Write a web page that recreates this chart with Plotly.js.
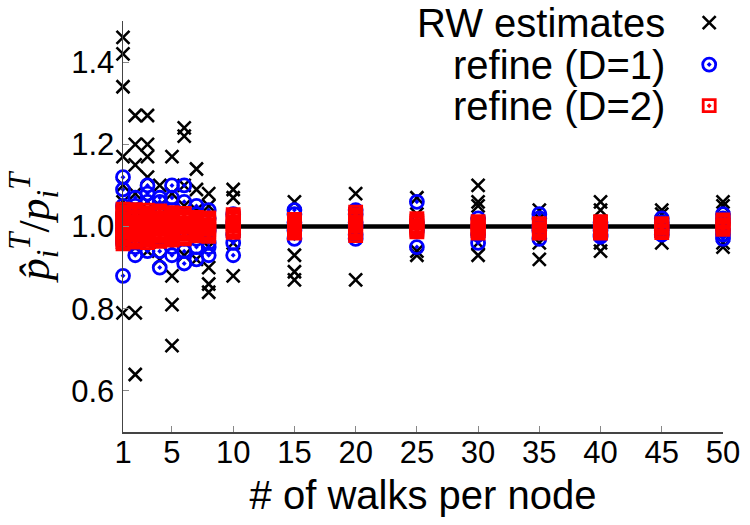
<!DOCTYPE html>
<html>
<head>
<meta charset="utf-8">
<script src="https://cdn.plot.ly/plotly-3.0.1.min.js"></script>
<style>
  html, body { margin: 0; padding: 0; background: #fff; }
  #chart { width: 750px; height: 525px; }
</style>
</head>
<body>
<div id="chart"></div>
<script>
// Number of random walks started per node
const walks = [1, 2, 3, 4, 5, 6, 7, 8, 10, 15, 20, 25, 30, 35, 40, 45, 50];
const xTicks = [1, 5, 10, 15, 20, 25, 30, 35, 40, 45, 50];
const yTicks = [0.6, 0.8, 1.0, 1.2, 1.4];
const referenceLevel = 1.0;

// Ratio of estimated to true PageRank, one list per walk count
const rwEstimates = [
  [1.46, 1.42, 1.34, 1.17, 1.10, 1.06, 1.03, 1.00, 0.97, 0.96, 0.79],
  [1.27, 1.20, 1.15, 1.08, 1.04, 0.99, 0.95, 0.79, 0.64],
  [1.27, 1.20, 1.17, 1.12, 1.06, 1.01, 0.97, 0.94],
  [1.10, 1.05, 1.00, 0.96, 0.92],
  [1.17, 1.08, 1.02, 0.97, 0.88, 0.81, 0.71],
  [1.24, 1.22, 1.10, 1.05, 0.98, 0.93],
  [1.14, 1.09, 1.04, 0.97, 0.92],
  [1.08, 1.05, 0.95, 0.90, 0.86, 0.84],
  [1.09, 1.07, 0.96, 0.88],
  [1.06, 1.00, 0.93, 0.89, 0.87],
  [1.08, 1.02, 0.98, 0.87],
  [1.07, 1.03, 0.94, 0.93],
  [1.10, 1.06, 1.05, 0.96, 0.93],
  [1.04, 1.02, 0.96, 0.92],
  [1.06, 1.04, 0.96, 0.94],
  [1.04, 1.03, 0.96],
  [1.06, 1.05, 0.96, 0.95]
];

const refineD1 = [
  [1.12, 1.09, 1.05, 1.03, 1.01, 0.99, 0.97, 0.96, 0.88],
  [1.07, 1.05, 1.03, 1.00, 0.98, 0.95, 0.93],
  [1.10, 1.08, 1.06, 1.02, 0.99, 0.96, 0.94],
  [1.07, 1.06, 1.03, 1.00, 0.97, 0.94, 0.90],
  [1.10, 1.07, 1.04, 1.01, 0.98, 0.95, 0.93],
  [1.10, 1.06, 1.03, 1.00, 0.97, 0.94, 0.91],
  [1.05, 1.03, 1.00, 0.97, 0.95, 0.92],
  [1.04, 1.02, 0.99, 0.96, 0.95, 0.93],
  [1.03, 1.01, 0.98, 0.96, 0.93],
  [1.04, 1.03, 1.01, 0.99, 0.97],
  [1.04, 1.03, 1.01, 1.00, 0.98, 0.97],
  [1.06, 1.01, 0.99, 0.95],
  [1.02, 1.00, 0.98, 0.96],
  [1.03, 1.02, 1.00, 0.99, 0.97],
  [1.01, 1.00, 0.99, 0.98, 0.975],
  [1.02, 1.01, 1.00, 0.99, 0.98],
  [1.03, 1.02, 1.01, 0.99, 0.98, 0.97]
];

const refineD2 = [
  [1.042, 1.036, 1.031, 1.025, 1.019, 1.014, 1.008, 1.003, 0.997, 0.991, 0.986, 0.980, 0.975, 0.969, 0.963, 0.958],
  [1.041, 1.035, 1.030, 1.024, 1.018, 1.012, 1.007, 1.001, 0.996, 0.990, 0.984, 0.979, 0.973, 0.968, 0.962],
  [1.040, 1.034, 1.028, 1.023, 1.017, 1.011, 1.006, 1.000, 0.994, 0.989, 0.983, 0.977, 0.972, 0.966, 0.961],
  [1.038, 1.032, 1.027, 1.021, 1.015, 1.010, 1.004, 0.998, 0.993, 0.987, 0.981, 0.976, 0.970, 0.964],
  [1.034, 1.028, 1.022, 1.017, 1.011, 1.005, 1.000, 0.994, 0.988, 0.983, 0.977, 0.971, 0.967],
  [1.032, 1.026, 1.021, 1.015, 1.009, 1.004, 0.998, 0.992, 0.987, 0.981, 0.975, 0.970],
  [1.022, 1.017, 1.011, 1.005, 1.000, 0.994, 0.988, 0.983, 0.977],
  [1.021, 1.015, 1.010, 1.004, 0.999, 0.993, 0.987, 0.982, 0.976],
  [1.029, 1.024, 1.018, 1.012, 1.007, 1.001, 0.995, 0.990, 0.986],
  [1.017, 1.011, 1.006, 1.000, 0.994, 0.989, 0.984],
  [1.035, 1.029, 1.024, 1.018, 1.012, 1.007, 1.001, 0.995, 0.990, 0.984, 0.978],
  [1.019, 1.013, 1.008, 1.002, 0.996, 0.991, 0.987],
  [1.012, 1.006, 1.000, 0.995, 0.989, 0.984],
  [1.007, 1.001, 0.995, 0.990, 0.984],
  [1.012, 1.006, 1.000, 0.995, 0.989, 0.984],
  [1.007, 1.001, 0.996, 0.990, 0.985],
  [1.016, 1.010, 1.004, 0.999, 0.993]
];

// Expand per-walk-count lists into flat x/y arrays
function flatten(groups) {
  const x = [], y = [];
  groups.forEach((vals, i) => vals.forEach(v => { x.push(walks[i]); y.push(v); }));
  return { x, y };
}

const rw = flatten(rwEstimates);
const d1 = flatten(refineD1);
const d2 = flatten(refineD2);

const rwMarker = { symbol: 'x-thin-open', size: 13, color: '#000', line: { color: '#000', width: 2.6 } };
const d1Marker = { symbol: 'circle-open-dot', size: 13, color: '#0000ff', line: { color: '#0000ff', width: 2.8 } };
const d2Marker = { symbol: 'square-open-dot', size: 12, color: '#ff0000', line: { color: '#ff0000', width: 2.8 } };

const traces = [
  { x: [walks[0], walks[walks.length - 1]], y: [referenceLevel, referenceLevel],
    mode: 'lines', line: { color: '#000', width: 4.5 }, hoverinfo: 'skip', showlegend: false },
  { x: rw.x, y: rw.y, mode: 'markers', marker: rwMarker, name: 'RW estimates', showlegend: false, cliponaxis: false },
  { x: d1.x, y: d1.y, mode: 'markers', marker: d1Marker, name: 'refine (D=1)', showlegend: false, cliponaxis: false },
  { x: d2.x, y: d2.y, mode: 'markers', marker: d2Marker, name: 'refine (D=2)', showlegend: false, cliponaxis: false }
];

// Key: sample symbols drawn on a hidden unit frame, labels as text on the left
const keyLabels = ['RW estimates', 'refine (D=1)', 'refine (D=2)'];
const keyMarkers = [rwMarker, d1Marker, d2Marker];
const keyRows = [0.996, 0.894, 0.794];
keyMarkers.forEach((m, i) => {
  traces.push({ x: [0.977], y: [keyRows[i]], xaxis: 'x2', yaxis: 'y2', mode: 'markers',
    marker: m, hoverinfo: 'skip', showlegend: false, cliponaxis: false });
});

const annotations = keyLabels.map((t, i) => ({
  xref: 'paper', yref: 'paper', x: 0.907, y: keyRows[i], xanchor: 'right', yanchor: 'middle',
  text: t, showarrow: false, font: { family: 'Liberation Sans, Arial, sans-serif', size: 40, color: '#000' }
}));

const layout = {
  width: 750, height: 525,
  margin: { l: 123, r: 27, t: 21, b: 93 },
  paper_bgcolor: '#fff', plot_bgcolor: '#fff',
  font: { family: 'Liberation Sans, Arial, sans-serif', color: '#000' },
  xaxis: {
    range: [1, 50], tickvals: xTicks, ticktext: xTicks.map(String),
    showgrid: false, zeroline: false, showline: true, linecolor: '#444', linewidth: 1.5,
    ticks: 'inside', ticklen: 6, tickcolor: '#888', tickwidth: 1,
    tickfont: { size: 31, color: '#000' }, ticklabelstandoff: -8,
    title: { text: '# of walks per node', font: { size: 40, color: '#000' }, standoff: 12 }
  },
  yaxis: {
    range: [0.5, 1.5], tickvals: yTicks, ticktext: yTicks.map(v => v.toFixed(1)),
    showgrid: false, zeroline: false, showline: true, linecolor: '#444', linewidth: 1.5,
    ticks: 'inside', ticklen: 6, tickcolor: '#888', tickwidth: 1,
    tickfont: { size: 31, color: '#000' }, ticklabelstandoff: 1,
    title: {
      text: '<i>p&#770;</i><sub><i>i</i></sub><sup><i>T</i></sup>/<i>p</i><sub><i>i</i></sub><sup><i>T</i></sup>',
      font: { family: 'Liberation Serif, Times New Roman, serif', size: 44, color: '#000' }, standoff: 8
    }
  },
  xaxis2: { domain: [0, 1], anchor: 'y2', overlaying: 'x', range: [0, 1], visible: false, fixedrange: true },
  yaxis2: { domain: [0, 1], anchor: 'x2', overlaying: 'y', range: [0, 1], visible: false, fixedrange: true },
  annotations: annotations,
  showlegend: false
};

Plotly.newPlot('chart', traces, layout, { displayModeBar: false, staticPlot: true });
</script>
</body>
</html>
